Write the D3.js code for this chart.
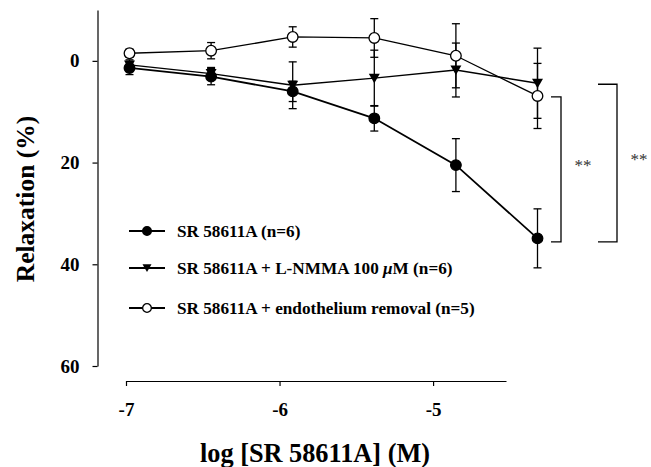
<!DOCTYPE html>
<html><head><meta charset="utf-8">
<script src="https://cdn.jsdelivr.net/npm/d3@7"></script>
<style>
body{margin:0;background:#fff;}
svg{display:block;font-family:"Liberation Serif","Times New Roman",serif;}
</style></head>
<body><svg id="c" width="651" height="467"></svg>
<script>
const xVals = [-7, -6.5, -6, -5.5, -5, -4.5];
const ctrl = [1.4, 3.1, 6.0, 11.3, 20.5, 34.9];
const ctrlErr = [1.3, 1.6, 2.0, 2.5, 5.2, 5.8];
const lnmma = [0.8, 2.5, 4.8, 3.4, 1.8, 4.4];
const lnmmaErr = [1.0, 1.2, 4.6, 5.5, 5.3, 6.9];
const endo = [-1.5, -2.0, -4.7, -4.5, -1.0, 6.9];
const endoErr = [0.8, 1.6, 2.0, 3.8, 6.3, 6.4];
const yTicks = [0, 20, 40, 60];
const xTicks = [-7, -6, -5];
const legendLabels = ["SR 58611A (n=6)", "SR 58611A + L-NMMA 100 μM (n=6)", "SR 58611A + endothelium removal (n=5)"];
const brackets = [[7.1, 35.6], [4.6, 35.6]];
const bracketLabels = ["**", "**"];

const svg = d3.select("#c");
const x = d3.scaleLinear().domain([-7, -4.5]).range([129.5, 537.5]);
const xAx = d3.scaleLinear().domain([-7, -4.525]).range([126, 506]);
const y = d3.scaleLinear().domain([-10, 60]).range([10, 366]);

// axes
const ya = svg.append("g").attr("transform", "translate(97.5,0)")
  .call(d3.axisLeft(y).tickValues(yTicks).tickSize(5).tickSizeOuter(0).tickPadding(13));
ya.selectAll("text").attr("font-size", 19).attr("font-weight", "bold").attr("font-family", "Liberation Serif, serif").attr("fill", "#000");
ya.selectAll("line,path").attr("stroke", "#000").attr("stroke-width", 1.2);

const xa = svg.append("g").attr("transform", "translate(0,381)")
  .call(d3.axisBottom(xAx).tickValues(xTicks).tickFormat(d => String(d).replace("\u2212", "-")).tickSize(5).tickSizeOuter(0).tickPadding(17));
xa.selectAll("text").attr("font-size", 19).attr("font-weight", "bold").attr("font-family", "Liberation Serif, serif").attr("fill", "#000");
xa.selectAll("line,path").attr("stroke", "#000").attr("stroke-width", 1.2);

svg.append("text").attr("x", 315).attr("y", 462).attr("text-anchor", "middle")
  .attr("font-size", 26.3).attr("font-weight", "bold").text("log [SR 58611A] (M)");
svg.append("text").attr("transform", "translate(34,199) rotate(-90)").attr("text-anchor", "middle")
  .attr("font-size", 25.5).attr("font-weight", "bold").text("Relaxation (%)");

const series = [
  {v: ctrl, e: ctrlErr, type: "filled", w: 1.8},
  {v: lnmma, e: lnmmaErr, type: "tri", w: 1.4},
  {v: endo, e: endoErr, type: "open", w: 1.3}
];
function marker(g, type, k) {
  if (type === "tri") g.append("path").attr("d", `M${-5.5*k},${-4.5*k}L${5.5*k},${-4.5*k}L0,${5*k}Z`).attr("fill", "#000");
  else g.append("circle").attr("r", 5.3 * k).attr("fill", type === "filled" ? "#000" : "#fff").attr("stroke", "#000").attr("stroke-width", 1.3);
}
const line = d3.line().x(d => x(d[0])).y(d => y(d[1]));
series.forEach(s => {
  svg.append("path").datum(xVals.map((xv, i) => [xv, s.v[i]]))
    .attr("d", line).attr("fill", "none").attr("stroke", "#000").attr("stroke-width", s.w);
});
series.forEach(s => {
  const g = svg.append("g").attr("stroke", "#000").attr("stroke-width", 1.3);
  xVals.forEach((xv, i) => {
    const cx = x(xv), y1 = y(s.v[i] - s.e[i]), y2 = y(s.v[i] + s.e[i]);
    g.append("line").attr("x1", cx).attr("x2", cx).attr("y1", y1).attr("y2", y2);
    g.append("line").attr("x1", cx - 4).attr("x2", cx + 4).attr("y1", y1).attr("y2", y1);
    g.append("line").attr("x1", cx - 4).attr("x2", cx + 4).attr("y1", y2).attr("y2", y2);
  });
});
series.forEach(s => {
  xVals.forEach((xv, i) => {
    const g = svg.append("g").attr("transform", `translate(${x(xv)},${y(s.v[i])})`);
    marker(g, s.type, 1);
  });
});

// brackets
const bx = [[551, 561], [598, 617]];
brackets.forEach((b, i) => {
  const [x0, x1] = bx[i];
  svg.append("path").attr("d", `M${x0},${y(b[0])}H${x1}V${y(b[1])}H${x0}`)
    .attr("fill", "none").attr("stroke", "#000").attr("stroke-width", 1.3);
  svg.append("text").attr("x", x1 + 22).attr("y", (y(b[0]) + y(b[1])) / 2 + 2)
    .attr("text-anchor", "middle").attr("font-size", 17).attr("fill", "#333").text(bracketLabels[i]);
});

// legend
const legY = [231, 268, 308];
series.forEach((s, i) => {
  const g = svg.append("g").attr("transform", `translate(0,${legY[i]})`);
  g.append("line").attr("x1", 129).attr("x2", 165).attr("stroke", "#000").attr("stroke-width", 1.8);
  const m = g.append("g").attr("transform", "translate(147,0)");
  marker(m, s.type, 0.82);
  const t = g.append("text").attr("x", 177).attr("y", 5.5).attr("font-size", 17.2).attr("font-weight", "bold");
  const lab = legendLabels[i];
  if (lab.includes("μ")) {
    const parts = lab.split("μ");
    t.append("tspan").text(parts[0]);
    t.append("tspan").attr("font-style", "italic").text("μ");
    t.append("tspan").text(parts[1]);
  } else t.text(lab);
});
</script></body></html>
